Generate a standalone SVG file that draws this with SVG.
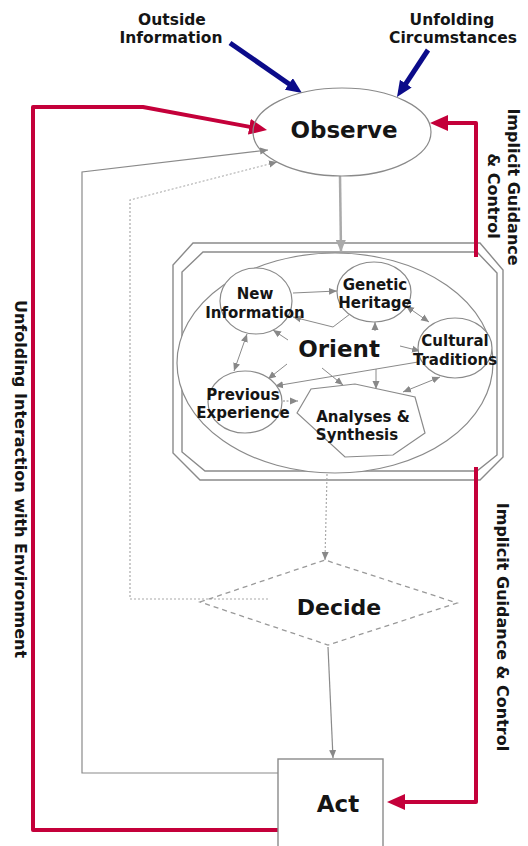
<svg xmlns="http://www.w3.org/2000/svg" width="528" height="846" viewBox="0 0 528 846">
<style>
.lbl{font-family:"DejaVu Sans",Verdana,sans-serif;font-weight:bold;fill:#151515;text-anchor:middle}
.big{font-size:23px}
.mid{font-size:15px}
.out{font-size:15.5px}
.rot{font-size:16px}
.shape{fill:#fff;stroke:#8a8a8a;stroke-width:1.2}
.frame{fill:#fff;stroke:#8a8a8a;stroke-width:1.4}
.red{fill:none;stroke:#C4003A;stroke-width:4;stroke-linejoin:round}
.blue{fill:none;stroke:#0B0B8A;stroke-width:5}
.gline{fill:none;stroke:#8a8a8a;stroke-width:1.2}
.gdot{fill:none;stroke:#aaa;stroke-width:1.2;stroke-dasharray:2 2}
.gin{fill:none;stroke:#8a8a8a;stroke-width:1}
</style>
<defs>
<marker id="mBlue" markerUnits="userSpaceOnUse" markerWidth="16" markerHeight="14" refX="2" refY="7" orient="auto"><path d="M0,0 L16,7 L0,14 z" fill="#0B0B8A"/></marker>
<marker id="mRed" markerUnits="userSpaceOnUse" markerWidth="18" markerHeight="16" refX="2" refY="8" orient="auto"><path d="M0,0 L18,8 L0,16 z" fill="#C4003A"/></marker>
<marker id="mGray" markerUnits="userSpaceOnUse" markerWidth="8" markerHeight="8" refX="8" refY="4" orient="auto-start-reverse"><path d="M0,0.5 L8,4 L0,7.5 z" fill="#888"/></marker>
<marker id="mGrayBig" markerUnits="userSpaceOnUse" markerWidth="12" markerHeight="10" refX="12" refY="5" orient="auto"><path d="M0,0 L12,5 L0,10 z" fill="#aaa"/></marker>
</defs>
<rect width="528" height="846" fill="#fff"/>

<g id="orient">
<polygon class="frame" points="193,243 480,243 503,270 503,457 480,480 200,480 173,453 173,265"/>
<polygon class="frame" points="203,252 477,252 497,273 497,455 477,471 205,471 182,452 182,272"/>
<ellipse class="shape" cx="335" cy="363" rx="158" ry="110"/>
<text class="lbl big" x="339" y="357">Orient</text>
</g>

<g id="connectors">
<line class="blue" x1="230" y1="43" x2="290.5" y2="85" marker-end="url(#mBlue)"/>
<line class="blue" x1="428" y1="50" x2="404.7" y2="85.3" marker-end="url(#mBlue)"/>
<path class="red" d="M278,830 H33 V107 H143 L251.3,127.1" marker-end="url(#mRed)"/>
<path class="red" d="M476,257 V123 H446" marker-end="url(#mRed)"/>
<path class="red" d="M476,467 V802 H403" marker-end="url(#mRed)"/>
<line x1="340" y1="176" x2="341" y2="252" stroke="#aaa" stroke-width="2.5" marker-end="url(#mGrayBig)"/>
<path class="gline" d="M278,773 H82 V172 L268,150" marker-end="url(#mGray)"/>
<path class="gdot" d="M268,599 H130 V200 L277,162" marker-end="url(#mGray)"/>
<line class="gdot" x1="327" y1="474" x2="325" y2="560" marker-end="url(#mGray)"/>
<line class="gline" x1="328" y1="647" x2="333" y2="758" marker-end="url(#mGray)"/>
<line class="gin" x1="293" y1="293" x2="337" y2="291" marker-end="url(#mGray)"/>
<path class="gin" d="M350,314 L333,327 L293,317" marker-end="url(#mGray)"/>
<line class="gin" x1="288" y1="340" x2="273" y2="330" marker-end="url(#mGray)"/>
<line class="gin" x1="247" y1="334" x2="234" y2="371" marker-start="url(#mGray)" marker-end="url(#mGray)"/>
<line class="gin" x1="287" y1="364" x2="268" y2="379" marker-end="url(#mGray)"/>
<line class="gin" x1="418" y1="362" x2="275" y2="386" marker-end="url(#mGray)"/>
<line class="gin" x1="376" y1="369" x2="376" y2="389" marker-end="url(#mGray)"/>
<line class="gin" x1="375" y1="331" x2="375" y2="322" marker-end="url(#mGray)"/>
<line class="gin" x1="406" y1="306" x2="429" y2="322" marker-start="url(#mGray)" marker-end="url(#mGray)"/>
<line class="gin" x1="400" y1="346" x2="420" y2="351" marker-end="url(#mGray)"/>
<line class="gin" x1="403" y1="392" x2="440" y2="377" marker-start="url(#mGray)" marker-end="url(#mGray)"/>
<line class="gin" x1="283" y1="401" x2="298" y2="401" stroke-dasharray="2 1.5" marker-end="url(#mGray)"/>
<line class="gin" x1="322" y1="368" x2="343" y2="385" marker-end="url(#mGray)"/>
</g>

<g id="observe">
<ellipse class="shape" cx="342" cy="132" rx="89" ry="44" fill="none" style="fill:none"/>
<text class="lbl big" x="344" y="138">Observe</text>
</g>

<g id="new-information">
<ellipse class="shape" cx="256" cy="301" rx="36" ry="33"/>
<text class="lbl mid" x="255" y="299">New</text>
<text class="lbl mid" x="255" y="318">Information</text>
</g>
<g id="genetic-heritage">
<ellipse class="shape" cx="374" cy="292" rx="37" ry="30"/>
<text class="lbl mid" x="375" y="290">Genetic</text>
<text class="lbl mid" x="375" y="308">Heritage</text>
</g>
<g id="cultural-traditions">
<ellipse class="shape" cx="455" cy="348" rx="37" ry="30"/>
<text class="lbl mid" x="455" y="346">Cultural</text>
<text class="lbl mid" x="455" y="365">Traditions</text>
</g>
<g id="previous-experience">
<ellipse class="shape" cx="245" cy="402" rx="37" ry="31"/>
<text class="lbl mid" x="243" y="400">Previous</text>
<text class="lbl mid" x="243" y="418">Experience</text>
</g>
<g id="analyses-synthesis">
<polygon class="shape" points="297,413 311,389 355,384 415,397 425,433 393,455 345,457"/>
<text class="lbl mid" x="363" y="422">Analyses &amp;</text>
<text class="lbl mid" x="357" y="440">Synthesis</text>
</g>

<g id="decide">
<polygon points="200,602 325,560 457,603 328,645" fill="none" stroke="#999" stroke-width="1.3" stroke-dasharray="5 4"/>
<text class="lbl big" x="339" y="615" style="font-size:22px">Decide</text>
</g>

<g id="act">
<rect x="278" y="759" width="105" height="95" fill="#fff" stroke="#8a8a8a" stroke-width="1.4"/>
<text class="lbl big" x="338" y="812">Act</text>
</g>

<g id="label-outside-information">
<text class="lbl out" x="172" y="25">Outside</text>
<text class="lbl out" x="171" y="43">Information</text>
</g>
<g id="label-unfolding-circumstances">
<text class="lbl out" x="452" y="25">Unfolding</text>
<text class="lbl out" x="453" y="43">Circumstances</text>
</g>
<g id="label-implicit-top">
<text class="lbl rot" transform="translate(508,187) rotate(90)">Implicit Guidance</text>
<text class="lbl rot" transform="translate(488,196) rotate(90)">&amp; Control</text>
</g>
<g id="label-implicit-bottom">
<text class="lbl rot" transform="translate(497,627) rotate(90)">Implicit Guidance &amp; Control</text>
</g>
<g id="label-unfolding-interaction">
<text class="lbl rot" transform="translate(15,479) rotate(90)">Unfolding Interaction with Environment</text>
</g>
</svg>
